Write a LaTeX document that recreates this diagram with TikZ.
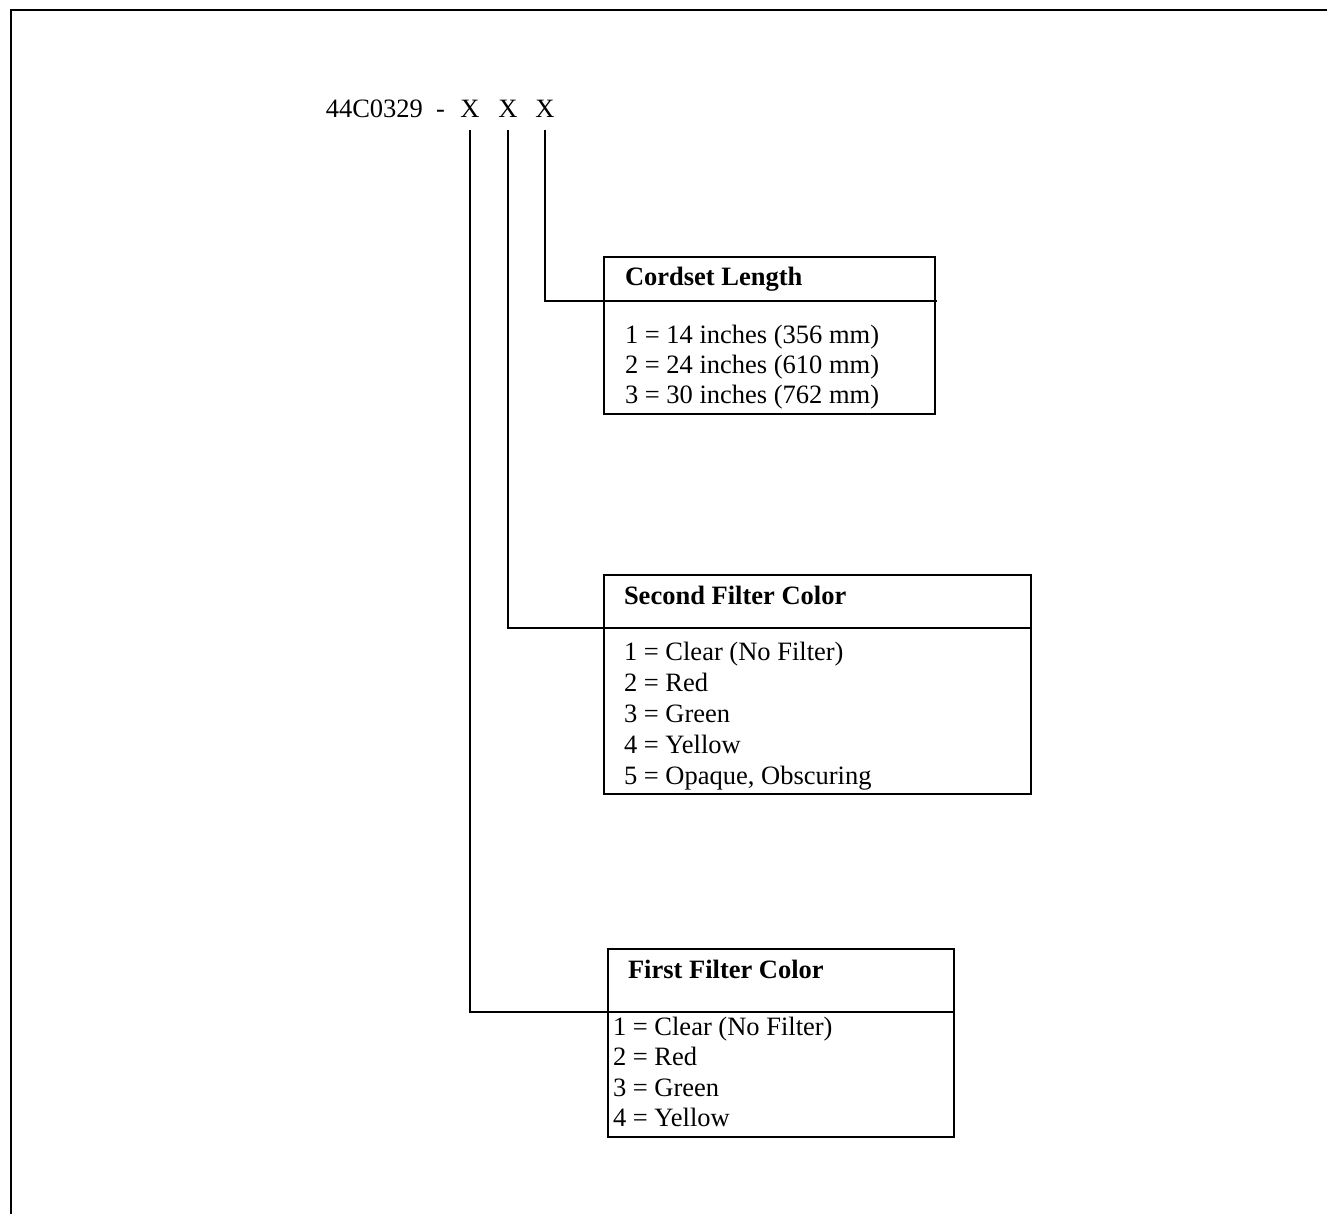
\documentclass[tikz,border=0pt]{standalone}
\usepackage{fontspec}
\setmainfont{Liberation Serif}
\begin{document}
\begin{tikzpicture}[x=1pt,y=-1pt,line width=2pt,
  lbl/.style={anchor=base west,inner sep=0pt,font=\fontsize{26.5}{30}\selectfont},
  hdr/.style={anchor=base west,inner sep=0pt,font=\fontsize{26.5}{30}\selectfont\bfseries},
  xch/.style={anchor=base,inner xsep=0pt,inner ysep=11pt,font=\fontsize{26.5}{30}\selectfont},
  box/.style={draw,anchor=north west,inner sep=0pt,line width=2pt}]
\useasboundingbox (0,0) rectangle (1327,1214);
\begin{scope}
\clip (0,0) rectangle (1327,1214);
\draw (1340,10) -- (11,10) -- (11,1230);
\end{scope}

% part number
\node[anchor=base east,inner sep=0pt,font=\fontsize{26.5}{30}\selectfont] (pn) at (446,118) {44C0329\ \ -};
\node[xch] (x1) at (470,118) {X};
\node[xch] (x2) at (508,118) {X};
\node[xch] (x3) at (545,118) {X};

% Cordset Length box
\node[box,minimum width=331pt,minimum height=157pt] (cbox) at (603,256) {};
\coordinate (cdiv) at (603,301);
\coordinate (cdivr) at (937,301);
\draw (cdiv) -- (cdivr);
\node[hdr] (ch) at (624,286) {Cordset Length};
\node[lbl] (c1) at (624,343) {1 = 14 inches (356 mm)};
\node[lbl] (c2) at (624,373) {2 = 24 inches (610 mm)};
\node[lbl] (c3) at (624,403) {3 = 30 inches (762 mm)};

% Second Filter Color box
\node[box,minimum width=427pt,minimum height=219pt] (sbox) at (603,574) {};
\coordinate (sdiv) at (603,628);
\draw (sdiv) -- (sbox.east |- sdiv);
\node[hdr] (sh) at (623,604) {Second Filter Color};
\node[lbl] (s1) at (623,660) {1 = Clear (No Filter)};
\node[lbl] (s2) at (623,691) {2 = Red};
\node[lbl] (s3) at (623,722) {3 = Green};
\node[lbl] (s4) at (623,753) {4 = Yellow};
\node[lbl] (s5) at (623,784) {5 = Opaque, Obscuring};

% First Filter Color box
\node[box,minimum width=346pt,minimum height=188pt] (fbox) at (607,948) {};
\coordinate (fdiv) at (607,1012);
\draw (fdiv) -- (fbox.east |- fdiv);
\node[hdr] (fh) at (627,978) {First Filter Color};
\node[lbl] (f1) at (612,1035) {1 = Clear (No Filter)};
\node[lbl] (f2) at (612,1065.5) {2 = Red};
\node[lbl] (f3) at (612,1096) {3 = Green};
\node[lbl] (f4) at (612,1126.5) {4 = Yellow};

% connectors
\draw (x3.south) |- (cdiv);
\draw (x2.south) |- (sdiv);
\draw (x1.south) |- (fdiv);
\end{tikzpicture}
\end{document}
